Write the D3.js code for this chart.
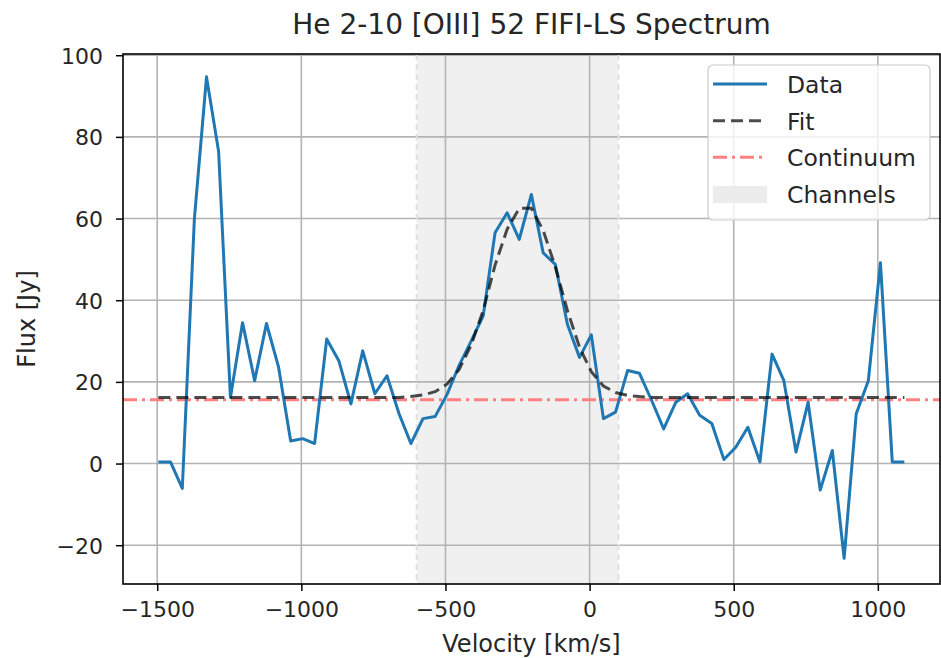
<!DOCTYPE html>
<html>
<head>
<meta charset="utf-8">
<script src="https://cdn.jsdelivr.net/npm/d3@7"></script>
<style>
  html, body { margin: 0; padding: 0; background: #fff; }
  svg { display: block; font-family: "DejaVu Sans", sans-serif; }
</style>
</head>
<body>
<svg id="chart" width="941" height="658"></svg>
<script>
// ---- data ----
const velocity = [-1496, -1454, -1413, -1371, -1329, -1287, -1246, -1204, -1162, -1121,
  -1079, -1037, -995, -954, -912, -870, -828, -787, -745, -703,
  -661, -620, -578, -536, -494, -453, -411, -369, -328, -286,
  -244, -202, -161, -119, -77, -35, 6, 48, 90, 132,
  173, 215, 257, 299, 340, 382, 424, 466, 507, 549,
  591, 633, 674, 716, 758, 800, 842, 883, 925, 967,
  1009, 1050, 1092];
const flux = [0.4, 0.4, -6.1, 60, 94.7, 76.4, 16.2, 34.5, 20.3, 34.3,
  23.6, 5.5, 6.1, 4.9, 30.5, 25.2, 14.6, 27.6, 17.1, 21.5,
  12.2, 4.9, 11.0, 11.5, 17, 24, 30, 36.2, 56.5, 61.4,
  54.9, 65.9, 51.6, 48.8, 34.1, 26.0, 31.5, 11.0, 12.6, 22.8,
  22.1, 15.5, 8.5, 15.0, 17.1, 11.8, 9.8, 1.0, 4.0, 8.9,
  0.4, 26.8, 20.3, 2.8, 15.0, -6.5, 3.2, -23.2, 12.2, 20.3,
  49.2, 0.4, 0.4];
const fitFlux = [16.2, 16.2, 16.2, 16.2, 16.2, 16.2, 16.2, 16.2, 16.2, 16.2,
  16.2, 16.2, 16.2, 16.2, 16.2, 16.2, 16.2, 16.2, 16.2, 16.2,
  16.2, 16.4, 16.8, 17.6, 19.5, 23.0, 29.0, 37.5, 48.6, 57.4,
  62.5, 62.5, 57.1, 48.2, 37.5, 28.5, 22.5, 19.0, 17.4, 16.7,
  16.4, 16.2, 16.2, 16.2, 16.2, 16.2, 16.2, 16.2, 16.2, 16.2,
  16.2, 16.2, 16.2, 16.2, 16.2, 16.2, 16.2, 16.2, 16.2, 16.2,
  16.2, 16.2, 16.2];
const continuumLevel = 15.6;
const channelRange = [-600, 100];
const xTicks = [-1500, -1000, -500, 0, 500, 1000];
const yTicks = [-20, 0, 20, 40, 60, 80, 100];
const legendLabels = ["Data", "Fit", "Continuum", "Channels"];
const titleText = "He 2-10 [OIII] 52 FIFI-LS Spectrum";
const xLabelText = "Velocity [km/s]";
const yLabelText = "Flux [Jy]";

// ---- layout ----
const W = 941, H = 658;
const L = 123, R = 940, T = 54, B = 584;
const svg = d3.select("#chart");

const x = d3.scaleLinear().domain([-1618.7, 1215.6]).range([L, R]);
const y = d3.scaleLinear().domain([-29.5, 100.3]).range([B, T]);
const fmt = v => (v < 0 ? "\u2212" + Math.abs(v) : String(v));

svg.append("defs").append("clipPath").attr("id", "clip")
  .append("rect").attr("x", L).attr("y", T).attr("width", R - L).attr("height", B - T);

const plot = svg.append("g").attr("clip-path", "url(#clip)");

// channel span
plot.append("rect")
  .attr("x", x(channelRange[0])).attr("y", T)
  .attr("width", x(channelRange[1]) - x(channelRange[0])).attr("height", B - T)
  .attr("fill", "#f0f0f0");

// grid
plot.selectAll(".gx").data(xTicks).enter().append("line")
  .attr("x1", d => x(d)).attr("x2", d => x(d)).attr("y1", T).attr("y2", B)
  .attr("stroke", "#b3b3b3").attr("stroke-width", 1.6);
plot.selectAll(".gy").data(yTicks).enter().append("line")
  .attr("y1", d => y(d)).attr("y2", d => y(d)).attr("x1", L).attr("x2", R)
  .attr("stroke", "#b3b3b3").attr("stroke-width", 1.6);

// channel edges
plot.selectAll(".edge").data(channelRange).enter().append("line")
  .attr("x1", d => x(d)).attr("x2", d => x(d)).attr("y1", T).attr("y2", B)
  .attr("stroke", "#e0e0e0").attr("stroke-width", 2).attr("stroke-dasharray", "6,4");

// continuum
plot.append("line")
  .attr("x1", L).attr("x2", R).attr("y1", y(continuumLevel)).attr("y2", y(continuumLevel))
  .attr("stroke", "#ff8080").attr("stroke-width", 3)
  .attr("stroke-dasharray", "14,5,3,5");

// data line
const pts = velocity.map((v, i) => [v, flux[i]]);
plot.append("path").datum(pts)
  .attr("d", d3.line().x(d => x(d[0])).y(d => y(d[1])))
  .attr("fill", "none").attr("stroke", "#1f77b4").attr("stroke-width", 3)
  .attr("stroke-linejoin", "round");

// fit line
const fitPts = velocity.map((v, i) => [v, fitFlux[i]]);
plot.append("path").datum(fitPts)
  .attr("d", d3.line().x(d => x(d[0])).y(d => y(d[1])))
  .attr("fill", "none").attr("stroke", "#000").attr("stroke-opacity", 0.7)
  .attr("stroke-width", 3).attr("stroke-dasharray", "12,6");

// axes
const xAxis = d3.axisBottom(x).tickValues(xTicks).tickFormat(fmt).tickSize(7).tickPadding(10);
const yAxis = d3.axisLeft(y).tickValues(yTicks).tickFormat(fmt).tickSize(7).tickPadding(13);
const gx = svg.append("g").attr("transform", `translate(0,${B})`).call(xAxis);
const gy = svg.append("g").attr("transform", `translate(${L},0)`).call(yAxis);
[gx, gy].forEach(g => {
  g.select(".domain").remove();
  g.selectAll(".tick line").attr("stroke", "#000").attr("stroke-width", 1.5);
  g.selectAll(".tick text").attr("fill", "#262626")
    .style("font-family", "DejaVu Sans").style("font-size", "22px");
});
gy.selectAll(".tick text").attr("dy", "0.36em");

// spines
svg.append("rect").attr("x", L).attr("y", T).attr("width", R - L).attr("height", B - T)
  .attr("fill", "none").attr("stroke", "#000").attr("stroke-width", 1.6);

// title and labels
svg.append("text").attr("x", (L + R) / 2).attr("y", 34).attr("text-anchor", "middle")
  .style("font-size", "28px").attr("fill", "#262626").text(titleText);
svg.append("text").attr("x", (L + R) / 2).attr("y", 652).attr("text-anchor", "middle")
  .style("font-size", "24px").attr("fill", "#262626").text(xLabelText);
svg.append("text").attr("transform", `translate(35,${(T + B) / 2}) rotate(-90)`)
  .attr("text-anchor", "middle").style("font-size", "24px").attr("fill", "#262626")
  .text(yLabelText);

// legend
const lg = svg.append("g");
lg.append("rect").attr("x", 708).attr("y", 65).attr("width", 222).attr("height", 155)
  .attr("rx", 5).attr("fill", "#fff").attr("fill-opacity", 0.8)
  .attr("stroke", "#cccccc").attr("stroke-width", 1.2);
const rowY = [84, 120.7, 157.3, 194];
const hx1 = 713, hx2 = 767;
lg.append("line").attr("x1", hx1).attr("x2", hx2).attr("y1", rowY[0]).attr("y2", rowY[0])
  .attr("stroke", "#1f77b4").attr("stroke-width", 3);
lg.append("line").attr("x1", hx1).attr("x2", hx2).attr("y1", rowY[1]).attr("y2", rowY[1])
  .attr("stroke", "#000").attr("stroke-opacity", 0.7).attr("stroke-width", 3)
  .attr("stroke-dasharray", "12,6");
lg.append("line").attr("x1", hx1).attr("x2", hx2).attr("y1", rowY[2]).attr("y2", rowY[2])
  .attr("stroke", "#ff8080").attr("stroke-width", 3).attr("stroke-dasharray", "14,5,3,5");
lg.append("rect").attr("x", hx1).attr("y", rowY[3] - 8).attr("width", hx2 - hx1).attr("height", 17)
  .attr("fill", "#ececec");
lg.selectAll(".lt").data(legendLabels).enter().append("text")
  .attr("x", 787).attr("y", (d, i) => rowY[i] + 9)
  .style("font-size", "23.5px").attr("fill", "#262626").text(d => d);
</script>
</body>
</html>
